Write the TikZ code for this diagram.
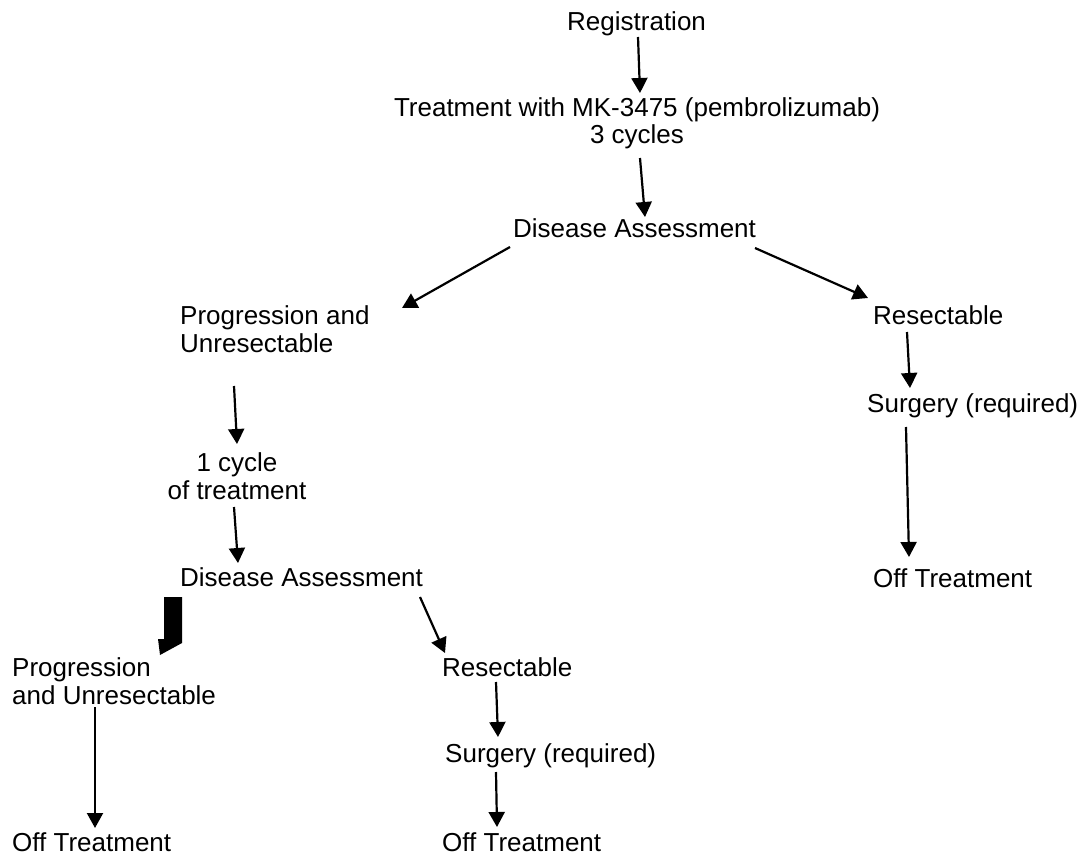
\documentclass[tikz,border=0pt]{standalone}
\usepackage{fontspec}
\setmainfont{Liberation Sans}
\usetikzlibrary{arrows.meta}
\begin{document}
\begin{tikzpicture}%
[x=1pt,y=-1pt,lbl/.style={inner sep=0pt, font=\fontsize{26}{28}\selectfont},%
arr/.style={line width=2.2pt, -{Triangle[length=15pt,width=16pt]}},%
block/.style={fill=black}]

\useasboundingbox (0,0) rectangle (1082,856);

\node[lbl, anchor=base west] (reg) at (567,31) {Registration};
\node[lbl, anchor=base, align=center] (treat) at (637,144)
  {Treatment with MK-3475 (pembrolizumab)\\3 cycles};
\node[lbl, anchor=base west] (da1) at (513,237) {Disease Assessment};

\node[lbl, anchor=base west, align=left] (prog1) at (180,352) {Progression and\\Unresectable};
\node[lbl, anchor=base, align=center] (cyc) at (237,499) {1 cycle\\of treatment};
\node[lbl, anchor=base west] (da2) at (180,586) {Disease Assessment};

\node[lbl, anchor=base west] (res1) at (873,324) {Resectable};
\node[lbl, anchor=base west] (surg1) at (867,412) {Surgery (required)};
\node[lbl, anchor=base west] (off1) at (873,587) {Off Treatment};

\node[lbl, anchor=base west, align=left] (prog2) at (12,704) {Progression\\and Unresectable};
\node[lbl, anchor=base west] (off2) at (12,851) {Off Treatment};
\node[lbl, anchor=base west] (res2) at (442,676) {Resectable};
\node[lbl, anchor=base west] (surg2) at (445,762) {Surgery (required)};
\node[lbl, anchor=base west] (off3) at (442,851) {Off Treatment};

% main line
\draw[arr] ([shift={(71,6)}]reg.base west) -- ([shift={(3,-51)}]treat.base);
\draw[arr] ([shift={(3,14)}]treat.base) -- ([shift={(132,-20)}]da1.base west);
\draw[arr] ([shift={(-3,10)}]da1.base west) -- ([shift={(222,-44)}]prog1.base west);
\draw[arr] ([shift={(242,11)}]da1.base west) -- ([shift={(-5,-26)}]res1.base west);

% left branch
\draw[arr] ([shift={(54,34)}]prog1.base west) -- ([shift={(0,-55)}]cyc.base);
\draw[arr] ([shift={(-3,8)}]cyc.base) -- ([shift={(58,-23)}]da2.base west);
\fill[block] ([shift={(-16,11)}]da2.base west) -- ([shift={(2,11)}]da2.base west)
  -- ([shift={(2,57)}]da2.base west) -- ([shift={(-20,69)}]da2.base west)
  -- ([shift={(-22,53)}]da2.base west) -- ([shift={(-16,53)}]da2.base west) -- cycle;
\draw[arr] ([shift={(83,3)}]prog2.base west) -- ([shift={(83,-23)}]off2.base west);
\draw[arr] ([shift={(240,11)}]da2.base west) -- ([shift={(3,-23)}]res2.base west);
\draw[arr] ([shift={(54,6)}]res2.base west) -- ([shift={(53,-25)}]surg2.base west);
\draw[arr] ([shift={(51,10)}]surg2.base west) -- ([shift={(55,-24)}]off3.base west);

% right branch
\draw[arr] ([shift={(34,8)}]res1.base west) -- ([shift={(43,-24)}]surg1.base west);
\draw[arr] ([shift={(39,15)}]surg1.base west) -- ([shift={(36,-30)}]off1.base west);
\end{tikzpicture}
\end{document}
